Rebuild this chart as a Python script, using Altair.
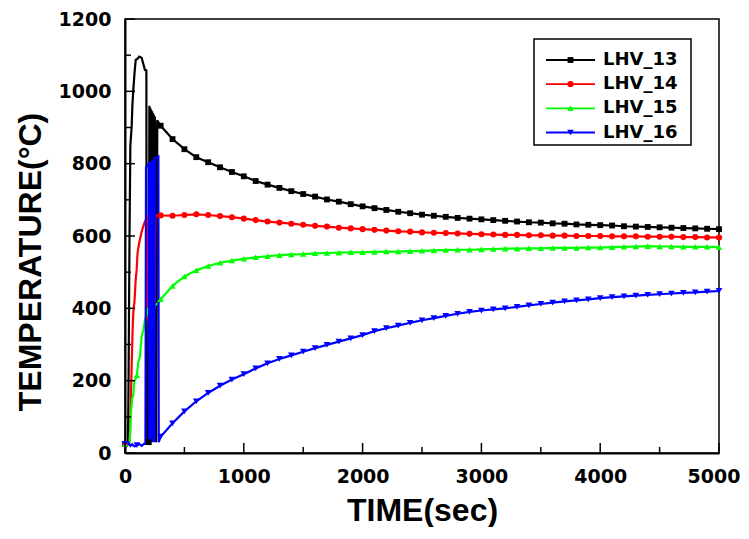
import altair as alt
import pandas as pd

# ---------------- data ----------------
names = ["LHV_13", "LHV_14", "LHV_15", "LHV_16"]
colors = ["#000000", "#ff0000", "#00ff00", "#0000ff"]
shapes = ["square", "circle", "triangle-up", "triangle-down"]
marker_sizes = [34, 44, 66, 66]

late_t = list(range(300, 5001, 100))

lhv13_early_t = [0, 10, 25, 30, 38, 45, 56, 62, 70, 80, 90, 105, 120, 140, 155, 168, 180, 183,
                 200, 205, 208, 212, 216, 220, 224, 228, 232, 236, 240, 244, 248, 252, 256, 262, 272, 285]
lhv13_early_v = [25, 27, 28, 200, 600, 850, 902, 960, 1004, 1050, 1087, 1090, 1096, 1093, 1075, 1059, 1058, 30,
                 30, 960, 700, 955, 650, 950, 700, 945, 650, 940, 700, 935, 650, 930, 820, 30, 920, 912]
lhv13_late = [905, 868, 840, 818, 804, 790, 777, 765,
              752, 742, 733, 724, 716, 709, 701, 695, 688, 682,
              677, 672, 667, 663, 659, 656, 653, 650, 648, 646,
              644, 642, 640, 638, 637, 635, 634, 632, 631, 630,
              629, 627, 626, 625, 624, 623, 622, 621, 620, 619]

lhv14_early_t = [0, 20, 38, 42, 50, 56, 63, 70, 80, 90, 98, 105, 112, 125, 140, 155, 168, 185,
                 188, 220, 250, 255, 275]
lhv14_early_v = [25, 28, 32, 55, 150, 239, 330, 390, 420, 480, 506, 550, 567, 590, 612, 628, 640, 650,
                 370, 380, 400, 655, 658]
lhv14_late = [657, 656, 658, 660, 658, 655, 652, 648,
              644, 640, 637, 634, 631, 628, 626, 623, 621, 619,
              617, 615, 613, 612, 610, 609, 608, 607, 606, 605,
              604, 603, 603, 602, 602, 601, 601, 600, 600, 600,
              599, 599, 599, 598, 598, 598, 597, 597, 596, 596]

lhv15_early_t = [0, 20, 38, 42, 50, 60, 70, 80, 90, 100, 112, 125, 140, 155, 168, 180, 196, 230, 260, 290]
lhv15_early_v = [25, 27, 30, 45, 110, 150, 160, 200, 205, 215, 252, 265, 322, 340, 368, 380, 400, 405, 410, 418]
lhv15_late = [425, 462, 488, 505, 517, 526, 532, 537,
              541, 544, 547, 549, 550, 552, 553, 554, 555, 555,
              556, 557, 557, 558, 559, 560, 561, 562, 562, 563,
              564, 565, 565, 566, 566, 567, 567, 567, 568, 568,
              569, 570, 571, 572, 571, 571, 570, 570, 570, 569]

lhv16_early_t = [0, 10, 20, 30, 45, 60, 80, 100, 120, 140, 160, 172, 177, 203, 205, 208, 211, 214,
                 217, 220, 223, 226, 229, 232, 235, 238, 241, 244, 247, 250, 281, 284]
lhv16_early_v = [25, 18, 22, 28, 20, 24, 18, 22, 25, 20, 25, 25, 790, 800, 30, 800, 30, 805,
                 30, 805, 30, 808, 30, 810, 30, 810, 30, 812, 30, 815, 820, 30]
lhv16_late = [45, 82, 115, 143, 166, 186, 203, 218,
              234, 248, 260, 270, 280, 290, 299, 308, 317, 326,
              337, 345, 352, 360, 367, 373, 379, 385, 390, 394,
              397, 400, 404, 408, 412, 416, 419, 422, 425, 428,
              431, 433, 435, 437, 439, 441, 443, 444, 446, 448]

x_label_values = [0, 1000, 2000, 3000, 4000, 5000]
x_minor_ticks = [500, 1500, 2500, 3500, 4500]
y_label_values = [0, 200, 400, 600, 800, 1000, 1200]
y_minor_ticks = [100, 300, 500, 700, 900, 1100]

# ---------------- tables ----------------
frames = []
for name, et, ev, lv in [
    (names[0], lhv13_early_t, lhv13_early_v, lhv13_late),
    (names[1], lhv14_early_t, lhv14_early_v, lhv14_late),
    (names[2], lhv15_early_t, lhv15_early_v, lhv15_late),
    (names[3], lhv16_early_t, lhv16_early_v, lhv16_late),
]:
    frames.append(pd.DataFrame({"series": name, "t": et + late_t, "temp": ev + lv}))
df = pd.concat(frames, ignore_index=True)
df["order"] = range(len(df))

W, H = 594, 434

x_scale = alt.Scale(domain=[0, 5000], nice=False, zero=False)
y_scale = alt.Scale(domain=[0, 1200], nice=False)
color_scale = alt.Scale(domain=names, range=colors)
shape_scale = alt.Scale(domain=names, range=shapes)
size_scale = alt.Scale(domain=names, range=marker_sizes)

last_x = "datum.value == 5000"
x_axis = alt.Axis(
    values=x_label_values, format="d", ticks=False, grid=False,
    domainColor="black", domainWidth=2,
    labelFont="DejaVu Sans", labelFontSize=19, labelFontWeight="bold", labelColor="black",
    labelPadding=29, labelBaseline="alphabetic", labelAngle=0, labelFlush=False, labelOverlap=False,
    labelAlign={"condition": {"test": last_x, "value": "right"}, "value": "center"},
    labelOffset={"condition": {"test": last_x, "value": 21}, "value": 0},
    title="TIME(sec)", titleFont="Liberation Sans", titleFontSize=32, titleFontWeight="bold",
    titleColor="black", titleX=W / 2, titleY=67, titleBaseline="alphabetic", titleAlign="center",
)
y_axis = alt.Axis(
    values=y_label_values, format="d", ticks=False, grid=False,
    domainColor="black", domainWidth=2,
    labelFont="DejaVu Sans", labelFontSize=19, labelFontWeight="bold", labelColor="black",
    labelPadding=14, labelBaseline="middle", labelFlush=False, labelOverlap=False,
    title="TEMPERATURE(°C)", titleFont="Liberation Sans", titleFontSize=32, titleFontWeight="bold",
    titleColor="black", titleAngle=270, titleX=-85, titleY=242.5,
    titleBaseline="alphabetic", titleAlign="center",
)

X = alt.X("t:Q", scale=x_scale, axis=x_axis)
Y = alt.Y("temp:Q", scale=y_scale, axis=y_axis)
C = alt.Color("series:N", scale=color_scale, legend=None)
S = alt.Shape("series:N", scale=shape_scale, legend=None)
SZ = alt.Size("series:N", scale=size_scale, legend=None)

lines = alt.Chart(df).mark_line(strokeWidth=2.2).encode(x=X, y=Y, color=C, order="order:Q")
points = (
    alt.Chart(df)
    .transform_filter("datum.t % 100 == 0")
    .mark_point(filled=True, opacity=1)
    .encode(x=X, y=Y, color=C, shape=S, size=SZ)
)

xt_major = alt.Chart(pd.DataFrame({"t": x_label_values})).mark_rule(color="black", strokeWidth=1.5).encode(
    x=X, y=alt.value(H), y2=alt.value(H - 10))
xt_minor = alt.Chart(pd.DataFrame({"t": x_minor_ticks})).mark_rule(color="black", strokeWidth=1.5).encode(
    x=X, y=alt.value(H), y2=alt.value(H - 6))
yt_major = alt.Chart(pd.DataFrame({"temp": y_label_values})).mark_rule(color="black", strokeWidth=1.5).encode(
    y=Y, x=alt.value(0), x2=alt.value(10))
yt_minor = alt.Chart(pd.DataFrame({"temp": y_minor_ticks})).mark_rule(color="black", strokeWidth=1.5).encode(
    y=Y, x=alt.value(0), x2=alt.value(6))

main = alt.layer(lines, points, xt_major, xt_minor, yt_major, yt_minor)

# ---------------- legend ----------------
leg_df = pd.DataFrame({"series": names})
LY = alt.Y("series:N", scale=alt.Scale(type="point", domain=names, range=[41, 113.5], padding=0), axis=None)

leg_box = alt.Chart(pd.DataFrame({"series": [names[0]]})).mark_rect(
    fill="white", stroke="black", strokeWidth=1.5
).encode(x=alt.value(409), x2=alt.value(566), y=alt.value(20), y2=alt.value(126))
leg_lines = alt.Chart(leg_df).mark_rule(strokeWidth=1.8).encode(
    x=alt.value(421), x2=alt.value(470), y=LY, color=C)
leg_pts = alt.Chart(leg_df).mark_point(filled=True, opacity=1).encode(
    x=alt.value(445.5), y=LY, color=C, shape=S, size=SZ)
leg_text = alt.Chart(leg_df).mark_text(
    align="left", baseline="middle", font="DejaVu Sans", fontSize=18, fontWeight="bold", color="black"
).encode(x=alt.value(478), y=LY, text="series:N")

legend = alt.layer(leg_box, leg_lines, leg_pts, leg_text)

chart = (
    alt.layer(main, legend)
    .resolve_scale(y="independent")
    .properties(
        width=W, height=H,
        autosize=alt.AutoSizeParams(type="none"),
        padding={"left": 117, "top": 11, "right": 22, "bottom": 74},
        background="white",
    )
    .configure_view(stroke="black", strokeWidth=1.5)
)

chart.save("out.html", embed_options={"renderer": "svg", "actions": False})
